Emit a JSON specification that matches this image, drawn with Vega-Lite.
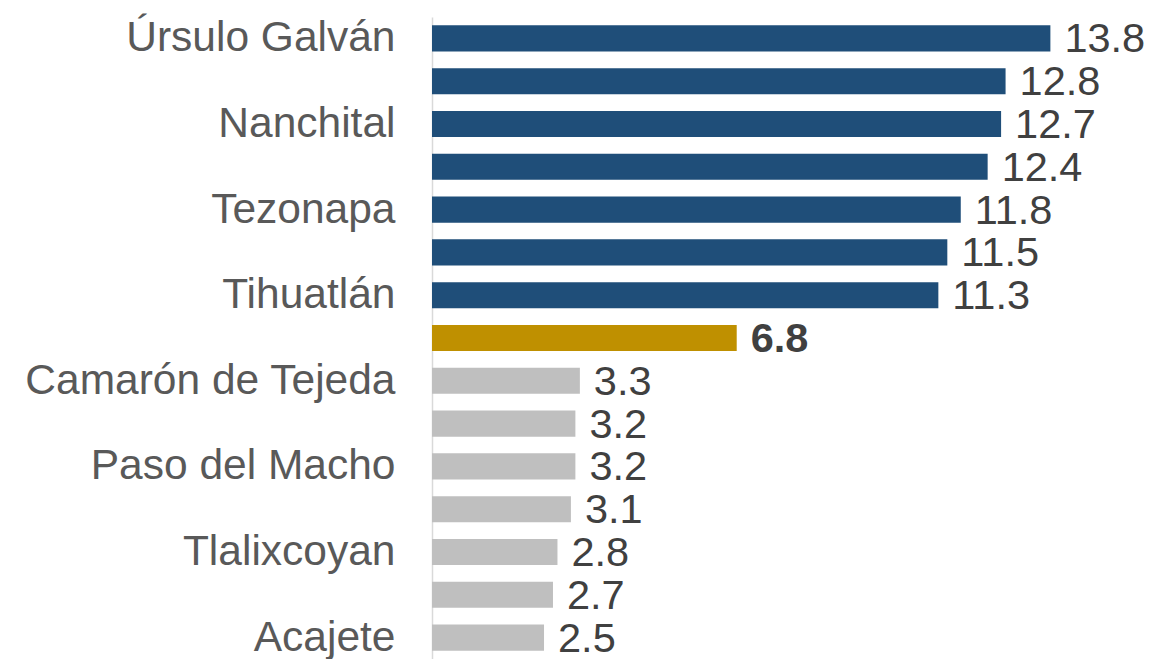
{
  "$schema": "https://vega.github.io/schema/vega-lite/v6.json",
  "autosize": {"type": "none"},
  "width": 721,
  "height": 642,
  "padding": {"left": 432, "top": 17, "right": 0, "bottom": 0},
  "background": "white",
  "config": {"view": {"stroke": null}},
  "data": {
    "values": [
      {"municipio": "Úrsulo Galván", "valor": 13.8, "grupo": "alto"},
      {"municipio": "_2", "valor": 12.8, "grupo": "alto"},
      {"municipio": "Nanchital", "valor": 12.7, "grupo": "alto"},
      {"municipio": "_4", "valor": 12.4, "grupo": "alto"},
      {"municipio": "Tezonapa", "valor": 11.8, "grupo": "alto"},
      {"municipio": "_6", "valor": 11.5, "grupo": "alto"},
      {"municipio": "Tihuatlán", "valor": 11.3, "grupo": "alto"},
      {"municipio": "_8", "valor": 6.8, "grupo": "promedio"},
      {"municipio": "Camarón de Tejeda", "valor": 3.3, "grupo": "bajo"},
      {"municipio": "_10", "valor": 3.2, "grupo": "bajo"},
      {"municipio": "Paso del Macho", "valor": 3.2, "grupo": "bajo"},
      {"municipio": "_12", "valor": 3.1, "grupo": "bajo"},
      {"municipio": "Tlalixcoyan", "valor": 2.8, "grupo": "bajo"},
      {"municipio": "_14", "valor": 2.7, "grupo": "bajo"},
      {"municipio": "Acajete", "valor": 2.5, "grupo": "bajo"}
    ]
  },
  "encoding": {
    "y": {
      "field": "municipio",
      "type": "nominal",
      "sort": null,
      "scale": {"paddingInner": 0.39, "paddingOuter": 0.195},
      "axis": {
        "title": null,
        "ticks": false,
        "domain": true,
        "domainColor": "#D9D9D9",
        "domainWidth": 1.5,
        "labelFont": "Liberation Sans",
        "labelFontSize": 42.5,
        "labelColor": "#595959",
        "labelPadding": 37,
        "labelLimit": 500,
        "labelOverlap": false,
        "labelExpr": "substring(datum.value, 0, 1) == '_' ? '' : datum.value"
      }
    },
    "x": {
      "field": "valor",
      "type": "quantitative",
      "scale": {"domain": [0, 16.09], "nice": false, "zero": true},
      "axis": null
    }
  },
  "layer": [
    {
      "mark": {"type": "bar"},
      "encoding": {
        "color": {
          "field": "grupo",
          "type": "nominal",
          "scale": {"domain": ["alto", "promedio", "bajo"], "range": ["#1F4E79", "#BF9000", "#BFBFBF"]},
          "legend": null
        }
      }
    },
    {
      "transform": [{"filter": "datum.grupo != 'promedio'"}],
      "mark": {"type": "text", "align": "left", "baseline": "middle", "dx": 14, "dy": 2, "font": "Liberation Sans", "fontSize": 41.5, "color": "#404040", "clip": false},
      "encoding": {
        "text": {"field": "valor", "type": "quantitative", "format": ".1f"}
      }
    },
    {
      "transform": [{"filter": "datum.grupo == 'promedio'"}],
      "mark": {"type": "text", "align": "left", "baseline": "middle", "dx": 14, "dy": 2, "font": "Liberation Sans", "fontSize": 41.5, "fontWeight": "bold", "color": "#404040", "clip": false},
      "encoding": {
        "text": {"field": "valor", "type": "quantitative", "format": ".1f"}
      }
    }
  ]
}
